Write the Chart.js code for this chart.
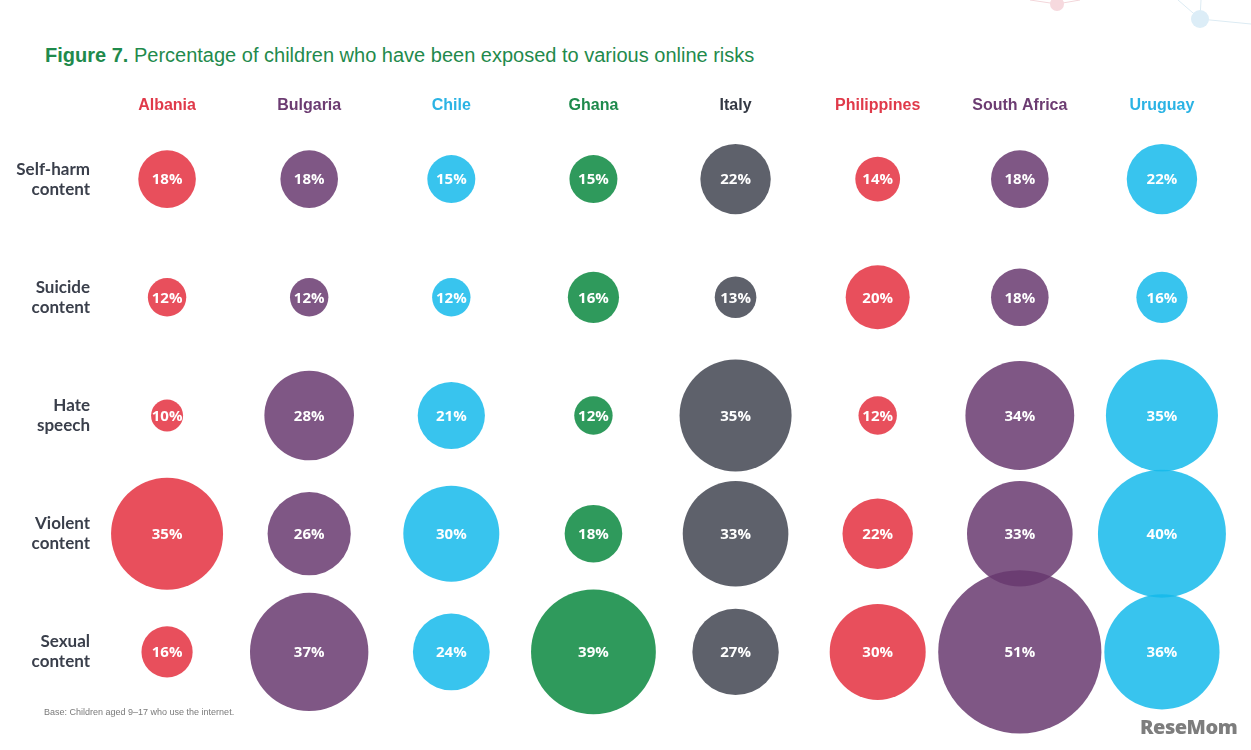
<!DOCTYPE html>
<html>
<head>
<meta charset="utf-8">
<script src="https://cdn.jsdelivr.net/npm/chart.js@4.4.0/dist/chart.umd.min.js"></script>
<style>
  body { margin: 0; background: #fff; width: 1251px; height: 750px; overflow: hidden; position: relative; }
  #chart { position: absolute; left: 0; top: 0; }
  .title { position: absolute; left: 45px; top: 44px; font-family: "Liberation Sans Narrow", "Liberation Sans", sans-serif; font-size: 20px; color: #1f8a4c; white-space: nowrap; }
  .title b { font-weight: 700; }
  .note { position: absolute; left: 44px; top: 707px; font-family: "Liberation Sans", sans-serif; font-size: 9px; color: #7a7a7a; }
  .logo { position: absolute; left: 1140px; top: 713px; font-family: "Open Sans", sans-serif; font-weight: 800; font-size: 20px; color: #7d7d7d; letter-spacing: -0.5px; }
</style>
</head>
<body>
<svg width="1251" height="60" style="position:absolute;left:0;top:0">
  <line x1="1030" y1="0" x2="1057" y2="4" stroke="#f3d6da" stroke-width="1"/>
  <line x1="1057" y1="4" x2="1080" y2="0" stroke="#f3d6da" stroke-width="1"/>
  <line x1="1178" y1="0" x2="1200" y2="19" stroke="#dcebf3" stroke-width="1"/>
  <line x1="1201" y1="0" x2="1200" y2="19" stroke="#dcebf3" stroke-width="1"/>
  <line x1="1200" y1="19" x2="1251" y2="24" stroke="#dcebf3" stroke-width="1"/>
  <circle cx="1057" cy="4" r="7" fill="#f6d9de"/>
  <circle cx="1200" cy="19" r="9" fill="#dcedf7"/>
</svg>
<div class="title"><b>Figure 7.</b> Percentage of children who have been exposed to various online risks</div>
<canvas id="chart" width="1251" height="750"></canvas>
<div class="note">Base: Children aged 9–17 who use the internet.</div>
<div class="logo">ReseMom</div>
<script>
// countries and risk categories
const countries = ['Albania', 'Bulgaria', 'Chile', 'Ghana', 'Italy', 'Philippines', 'South Africa', 'Uruguay'];
const risks = [['Self-harm', 'content'], ['Suicide', 'content'], ['Hate', 'speech'], ['Violent', 'content'], ['Sexual', 'content']];

// percentages per country, in risk order
const albania     = [18, 12, 10, 35, 16];
const bulgaria    = [18, 12, 28, 26, 37];
const chile       = [15, 12, 21, 30, 24];
const ghana       = [15, 16, 12, 18, 39];
const italy       = [22, 13, 35, 33, 27];
const philippines = [14, 20, 12, 22, 30];
const southAfrica = [18, 18, 34, 33, 51];
const uruguay     = [22, 16, 35, 40, 36];
const values = [albania, bulgaria, chile, ghana, italy, philippines, southAfrica, uruguay];

const bubbleColors = ['rgba(228,48,64,0.85)', 'rgba(105,58,112,0.85)', 'rgba(21,186,235,0.85)', 'rgba(11,136,64,0.85)',
                      'rgba(66,69,81,0.85)', 'rgba(228,48,64,0.85)', 'rgba(105,58,112,0.85)', 'rgba(21,186,235,0.85)'];
const labelColors = ['#e03a4a', '#6c3c72', '#2bb3e4', '#1e8a4c', '#343944', '#e03a4a', '#6c3c72', '#2bb3e4'];

let datasets = countries.map(function (name, i) {
  return {
    label: name,
    data: values[i].map(function (v, j) { return { x: i, y: j, v: v }; }),
    backgroundColor: bubbleColors[i],
    borderWidth: 0,
    radius: function (c) { return c.raw ? c.raw.v * 1.6 : 0; },
    clip: false
  };
});

// write the percentage in the middle of each bubble
const valueLabels = {
  id: 'valueLabels',
  afterDatasetsDraw: function (chart) {
    let ctx = chart.ctx;
    ctx.save();
    ctx.fillStyle = '#ffffff';
    ctx.font = '700 15px "Open Sans", sans-serif';
    ctx.textAlign = 'center';
    ctx.textBaseline = 'middle';
    chart.data.datasets.forEach(function (ds, i) {
      chart.getDatasetMeta(i).data.forEach(function (el, j) {
        ctx.fillText(ds.data[j].v + '%', el.x, el.y + 1);
      });
    });
    ctx.restore();
  }
};

new Chart(document.getElementById('chart').getContext('2d'), {
  type: 'bubble',
  data: { datasets: datasets },
  options: {
    responsive: false,
    animation: false,
    events: [],
    layout: { autoPadding: false, padding: { top: 0, right: 18, bottom: 39, left: 0 } },
    plugins: { legend: { display: false }, tooltip: { enabled: false } },
    scales: {
      x: {
        type: 'linear',
        position: 'top',
        min: -0.5,
        max: 7.5,
        grid: { display: false, drawTicks: false },
        border: { display: false },
        afterBuildTicks: function (s) { s.ticks = countries.map(function (c, i) { return { value: i }; }); },
        afterFit: function (s) { s.height = 120; },
        ticks: {
          padding: 5,
          maxRotation: 0,
          autoSkip: false,
          font: { family: '"Liberation Sans Narrow", "Liberation Sans", sans-serif', size: 16, weight: 'bold' },
          color: function (c) { return labelColors[c.index]; },
          callback: function (v) { return countries[v]; }
        }
      },
      y: {
        type: 'linear',
        reverse: true,
        min: -0.5,
        max: 4.5,
        grid: { display: false, drawTicks: false },
        border: { display: false },
        afterBuildTicks: function (s) { s.ticks = risks.map(function (r, i) { return { value: i }; }); },
        afterFit: function (s) { s.width = 96; },
        ticks: {
          padding: 6,
          autoSkip: false,
          font: { family: 'Lato, sans-serif', size: 17, weight: 'bold', lineHeight: 1.18 },
          color: '#3a3f4b',
          callback: function (v) { return risks[v]; }
        }
      }
    }
  },
  plugins: [valueLabels]
});
</script>
</body>
</html>
